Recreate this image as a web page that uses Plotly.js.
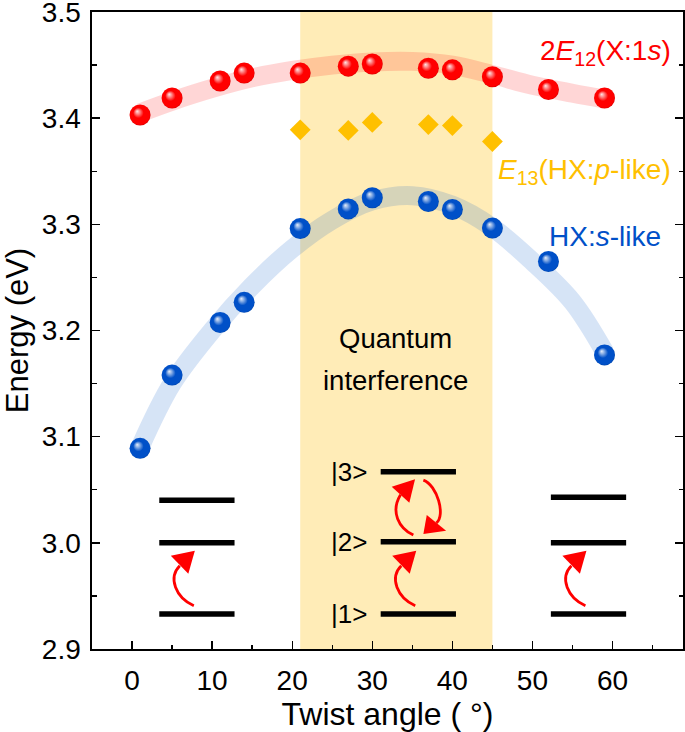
<!DOCTYPE html>
<html><head><meta charset="utf-8">
<script src="https://cdn.plot.ly/plotly-3.0.1.min.js"></script>
<style>html,body{margin:0;padding:0;background:#fff}</style>
</head><body><div id="chart" style="width:685px;height:732px"></div>
<script>
// ---- data ----
const angle = [1, 5, 11, 14, 21, 27, 30, 37, 40, 45, 52, 59];
const e12 = [3.403, 3.419, 3.435, 3.4425, 3.4425, 3.449, 3.451, 3.447, 3.4455, 3.439, 3.427, 3.419];
const hxS = [3.089, 3.158, 3.2075, 3.2265, 3.296, 3.3145, 3.325, 3.3215, 3.314, 3.2965, 3.265, 3.177];
const angleP = [21, 27, 30, 37, 40, 45];
const e13 = [3.389, 3.3885, 3.396, 3.394, 3.393, 3.378];
// guide-to-eye bands
const fitX = [1, 5, 10, 15, 20, 25, 30, 35, 40, 45, 50, 55, 59];
const fitE12 = [3.405, 3.416, 3.428, 3.438, 3.445, 3.450, 3.453, 3.4535, 3.450, 3.441, 3.431, 3.4235, 3.418];
const fitHX = [3.090, 3.150, 3.200, 3.242, 3.277, 3.304, 3.322, 3.327, 3.318, 3.297, 3.265, 3.227, 3.180];
// shaded region
const regionX = [21, 45];
// level schematics
const levelX0 = [3.4, 31.05, 52.3];
const levelLen = 9.4;
const levelE = [[3.040, 3.000, 2.933], [3.067, 3.001, 2.933], [3.043, 3.000, 2.933]];
const stateLabels = ['|3&gt;', '|2&gt;', '|1&gt;'];
const xTicks = [0, 10, 20, 30, 40, 50, 60];
const yTicks = [2.9, 3.0, 3.1, 3.2, 3.3, 3.4, 3.5];

const X_RANGE = [-5, 68.8], Y_RANGE = [2.9, 3.5];
const PLOT_W = 590, PLOT_H = 637;
const pxX = PLOT_W / (X_RANGE[1] - X_RANGE[0]);
const pxY = PLOT_H / (Y_RANGE[1] - Y_RANGE[0]);
const FONT = 'Liberation Sans, Arial, sans-serif';
const RED = '#FF0000', BLUE = '#0050C8', GOLD = '#FFC000';

// pixel offsets -> data coords relative to an anchor
function pt(ax, ay, dx, dy) { return [ax + dx / pxX, ay - dy / pxY]; }
function f(p) { return p[0].toFixed(4) + ',' + p[1].toFixed(5); }
function arrow(ax, ay, g) {
  const P = g.map(q => pt(ax, ay, q[0], q[1]));
  const curve = 'M ' + f(P[0]) + ' C ' + f(P[1]) + ' ' + f(P[2]) + ' ' + f(P[3]);
  const head = 'M ' + f(P[4]) + ' L ' + f(P[5]) + ' L ' + f(P[6]) + ' Z';
  return [
    {type: 'path', xref: 'x', yref: 'y', path: curve, line: {color: RED, width: 2.8}, layer: 'above'},
    {type: 'path', xref: 'x', yref: 'y', path: head, fillcolor: RED, line: {width: 0}, layer: 'above'}
  ];
}
// arrow geometries in pixel offsets: tail, c1, c2, end, tip, corner1, corner2
const upArrow = [[0, 0], [-18, -8], [-26, -28], [-14, -40], [1, -55], [-23, -50], [-5.5, -32]];
const cycUp = [[32.6, -6.7], [18, -13.7], [9.5, -30], [19.8, -47], [34.3, -62.4], [11, -55], [28.6, -39]];
const cycDown = [[42.6, -61.7], [56.5, -56.7], [65, -25.9], [55.6, -18.9], [42.6, -7.7], [46, -26.7], [65.3, -11]];

const shapes = [{
  type: 'rect', xref: 'x', yref: 'paper', x0: regionX[0], x1: regionX[1], y0: 0, y1: 1,
  fillcolor: 'rgb(255,236,183)', line: {width: 0}, layer: 'below'
}];
levelX0.forEach((x0, i) => {
  levelE[i].forEach(E => shapes.push({
    type: 'line', xref: 'x', yref: 'y', x0: x0, x1: x0 + levelLen, y0: E, y1: E,
    line: {color: 'black', width: 5.5}, layer: 'above'
  }));
  const low = levelE[i][2];
  shapes.push(...arrow(x0, low, upArrow.map(q => [q[0] + 34.5, q[1] - 8.3])));
});
shapes.push(...arrow(levelX0[1], levelE[1][1], cycUp));
shapes.push(...arrow(levelX0[1], levelE[1][1], cycDown));

const annotations = [
  {x: 67.6, y: 3.4617, xanchor: 'right', yanchor: 'middle', showarrow: false,
   text: '2<i>E</i><sub>12</sub>(X:1<i>s</i>)', font: {family: FONT, size: 28, color: RED}},
  {x: 67.6, y: 3.3497, xanchor: 'right', yanchor: 'middle', showarrow: false,
   text: '<i>E</i><sub>13</sub>(HX:<i>p</i>-like)', font: {family: FONT, size: 28, color: GOLD}},
  {x: 66.3, y: 3.2884, xanchor: 'right', yanchor: 'middle', showarrow: false,
   text: 'HX:<i>s</i>-like', font: {family: FONT, size: 28, color: BLUE}},
  {x: 32.96, y: 3.192, xanchor: 'center', yanchor: 'middle', showarrow: false,
   text: 'Quantum', font: {family: FONT, size: 27.5, color: 'black'}},
  {x: 32.96, y: 3.153, xanchor: 'center', yanchor: 'middle', showarrow: false,
   text: 'interference', font: {family: FONT, size: 27.5, color: 'black'}}
];
levelE[1].forEach((E, i) => annotations.push({
  x: 29.6, y: E, xanchor: 'right', yanchor: 'middle', showarrow: false,
  text: stateLabels[i], font: {family: FONT, size: 26, color: 'black'}
}));

const traces = [
  {x: fitX, y: fitE12, mode: 'lines', line: {color: 'rgba(255,0,0,0.16)', width: 19, shape: 'spline'}, hoverinfo: 'skip'},
  {x: fitX, y: fitHX, mode: 'lines', line: {color: 'rgba(0,90,200,0.16)', width: 19, shape: 'spline'}, hoverinfo: 'skip'},
  {x: angle, y: e12, mode: 'markers', name: '2E12',
   marker: {color: RED, size: 21, gradient: {type: 'radial', color: 'white'}, line: {width: 0}}},
  {x: angle, y: hxS, mode: 'markers', name: 'HX s',
   marker: {color: BLUE, size: 21, gradient: {type: 'radial', color: 'white'}, line: {width: 0}}},
  {x: angleP, y: e13, mode: 'markers', name: 'E13',
   marker: {color: GOLD, symbol: 'diamond', size: 16, line: {width: 0}}}
];

const axisCommon = {
  showline: true, linecolor: 'black', linewidth: 1.6, showgrid: false, zeroline: false,
  ticks: 'inside', ticklen: 8, tickwidth: 1.4, tickcolor: 'black',
  ticklabeloverflow: 'allow',
  tickfont: {family: FONT, size: 28, color: 'black'}
};
const layout = {
  width: 685, height: 732,
  margin: {l: 92, r: 2, t: 12, b: 83},
  paper_bgcolor: 'white', plot_bgcolor: 'white',
  showlegend: false,
  xaxis: Object.assign({}, axisCommon, {
    range: X_RANGE, tickvals: xTicks, mirror: true,
    minor: {dtick: 5, tick0: 0, ticks: 'inside', ticklen: 4.5, tickwidth: 1.4, tickcolor: 'black'},
    title: {text: 'Twist angle ( °)', font: {family: FONT, size: 32, color: 'black'}, standoff: 6},
    ticklabelstandoff: 6
  }),
  yaxis: Object.assign({}, axisCommon, {
    range: Y_RANGE, tickvals: yTicks, tickformat: '.1f', mirror: 'ticks',
    minor: {dtick: 0.05, tick0: 2.9, ticks: 'inside', ticklen: 4.5, tickwidth: 1.4, tickcolor: 'black'},
    title: {text: 'Energy (eV)', font: {family: FONT, size: 31, color: 'black'}, standoff: 6},
    ticklabelstandoff: 4
  }),
  shapes: shapes,
  annotations: annotations
};

function shadeBalls() {
  const NS = 'http://www.w3.org/2000/svg';
  document.querySelectorAll('#chart radialGradient').forEach(g => {
    let base = null;
    g.querySelectorAll('stop').forEach(s => {
      const c = s.getAttribute('stop-color');
      if (c && !/255,\s*255,\s*255/.test(c)) base = c;
    });
    if (!base) return;
    const m = base.match(/(\d+),\s*(\d+),\s*(\d+)/);
    if (!m) return;
    const r = +m[1], gg = +m[2], b = +m[3];
    const mix = (t) => 'rgb(' + Math.round(r + (255 - r) * t) + ',' + Math.round(gg + (255 - gg) * t) + ',' + Math.round(b + (255 - b) * t) + ')';
    const dark = 'rgb(' + Math.round(r * 0.75) + ',' + Math.round(gg * 0.75) + ',' + Math.round(b * 0.75) + ')';
    while (g.firstChild) g.removeChild(g.firstChild);
    [[0, mix(0.9)], [0.18, mix(0.55)], [0.45, base], [0.85, base], [1, dark]].forEach(st => {
      const s = document.createElementNS(NS, 'stop');
      s.setAttribute('offset', st[0]);
      s.setAttribute('stop-color', st[1]);
      g.appendChild(s);
    });
    g.setAttribute('cx', '0.5'); g.setAttribute('cy', '0.5'); g.setAttribute('r', '0.55');
    g.setAttribute('fx', '0.36'); g.setAttribute('fy', '0.32');
  });
}

Plotly.newPlot('chart', traces, layout, {displayModeBar: false, staticPlot: true}).then(shadeBalls);
</script>
</body></html>
